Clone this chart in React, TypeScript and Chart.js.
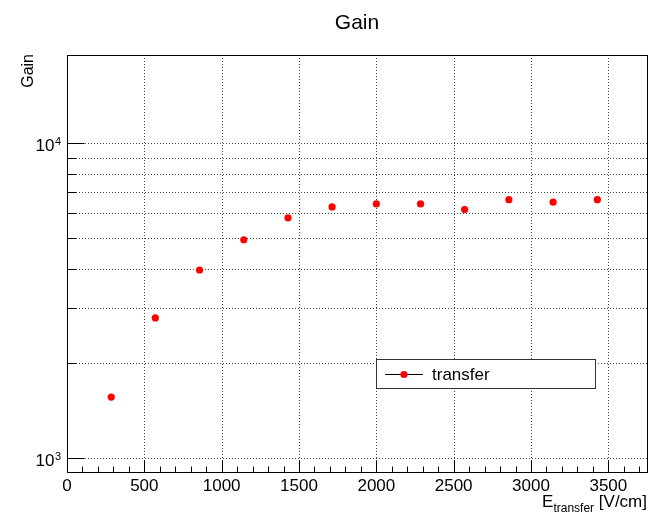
import { useEffect, useRef } from 'react';
import { Chart, registerables } from 'chart.js';

Chart.register(...registerables);

// ---- data ----
const chartTitle = 'Gain';
const yAxisTitle = 'Gain';
const xTitleMain = 'E';
const xTitleSub = 'transfer';
const xTitleUnit = ' [V/cm]';
const legendLabel = 'transfer';

const fieldValues = [286, 571, 857, 1143, 1429, 1714, 2000, 2286, 2571, 2857, 3143, 3429];
const gainValues = [1565, 2790, 3960, 4940, 5800, 6280, 6420, 6420, 6160, 6620, 6500, 6620];

const xMajorTicks = [0, 500, 1000, 1500, 2000, 2500, 3000, 3500];
const xMinorStep = 100;
const yDecadeTicks = [1000, 10000];
const yDecadeExponents = ['3', '4'];
const yMinorTicks = [2000, 3000, 4000, 5000, 6000, 7000, 8000, 9000];

const xMin = 0;
const xMax = 3750;
const yMin = 905;
const yMax = 19060;

const FONT = '"Liberation Sans", Arial, Helvetica, sans-serif';

const rootPlugin = {
  id: 'rootStyle',
  beforeDatasetsDraw(chart: any) {
    const { ctx, chartArea: a, scales } = chart;
    const xs = scales.x;
    const ys = scales.y;
    ctx.save();
    ctx.strokeStyle = '#444';
    ctx.lineWidth = 1;
    ctx.setLineDash([1, 2]);
    for (const v of xMajorTicks) {
      if (v === xMin) continue;
      const px = Math.round(xs.getPixelForValue(v)) + 0.5;
      ctx.beginPath();
      ctx.moveTo(px, a.top);
      ctx.lineTo(px, a.bottom);
      ctx.stroke();
    }
    for (const v of [...yDecadeTicks, ...yMinorTicks]) {
      const py = Math.round(ys.getPixelForValue(v)) + 0.5;
      ctx.beginPath();
      ctx.moveTo(a.left, py);
      ctx.lineTo(a.right, py);
      ctx.stroke();
    }
    ctx.restore();
  },
  afterDatasetsDraw(chart: any) {
    const { ctx, chartArea: a, scales } = chart;
    const xs = scales.x;
    const ys = scales.y;
    ctx.save();
    ctx.setLineDash([]);
    ctx.strokeStyle = '#000';
    ctx.fillStyle = '#000';
    ctx.lineWidth = 1;

    // frame
    const L = Math.round(a.left) + 0.5;
    const R = Math.round(a.right) + 0.5;
    const T = Math.round(a.top) + 0.5;
    const B = Math.round(a.bottom) + 0.5;
    ctx.strokeRect(L, T, R - L, B - T);

    // x ticks
    for (let v = xMin; v <= xMax; v += xMinorStep) {
      const px = Math.round(xs.getPixelForValue(v)) + 0.5;
      const major = v % 500 === 0;
      ctx.beginPath();
      ctx.moveTo(px, B);
      ctx.lineTo(px, B - (major ? 12 : 6));
      ctx.stroke();
    }
    // y ticks
    for (const v of yDecadeTicks) {
      const py = Math.round(ys.getPixelForValue(v)) + 0.5;
      ctx.beginPath();
      ctx.moveTo(L, py);
      ctx.lineTo(L + 17, py);
      ctx.stroke();
    }
    for (const v of yMinorTicks) {
      const py = Math.round(ys.getPixelForValue(v)) + 0.5;
      ctx.beginPath();
      ctx.moveTo(L, py);
      ctx.lineTo(L + 9, py);
      ctx.stroke();
    }

    // x tick labels
    ctx.font = `17px ${FONT}`;
    ctx.textAlign = 'center';
    ctx.textBaseline = 'alphabetic';
    for (const v of xMajorTicks) {
      ctx.fillText(String(v), xs.getPixelForValue(v), B + 18);
    }

    // y tick labels (10^n)
    yDecadeTicks.forEach((v, i) => {
      const py = ys.getPixelForValue(v);
      const right = 61;
      ctx.font = `11px ${FONT}`;
      const sw = ctx.measureText(yDecadeExponents[i]).width;
      ctx.textAlign = 'left';
      ctx.fillText(yDecadeExponents[i], right - sw, py + 2);
      ctx.font = `17px ${FONT}`;
      ctx.textAlign = 'right';
      ctx.fillText('10', right - sw - 0.5, py + 8);
    });

    // title
    ctx.font = `21px ${FONT}`;
    ctx.textAlign = 'center';
    ctx.fillText(chartTitle, (a.left + a.right) / 2, 29);

    // y axis title
    ctx.save();
    ctx.translate(33, a.top - 1);
    ctx.rotate(-Math.PI / 2);
    ctx.font = `16px ${FONT}`;
    ctx.textAlign = 'right';
    ctx.fillText(yAxisTitle, 0, 0);
    ctx.restore();

    // x axis title (right aligned)
    let xr = R - 0.5;
    ctx.textAlign = 'right';
    ctx.font = `17px ${FONT}`;
    ctx.fillText(xTitleUnit, xr, 507);
    xr -= ctx.measureText(xTitleUnit).width;
    ctx.font = `12px ${FONT}`;
    ctx.fillText(xTitleSub, xr, 512);
    xr -= ctx.measureText(xTitleSub).width;
    ctx.font = `17px ${FONT}`;
    ctx.fillText(xTitleMain, xr, 507);

    // legend
    ctx.fillStyle = '#fff';
    ctx.fillRect(376.5, 359.5, 219, 29);
    ctx.strokeStyle = '#333';
    ctx.strokeRect(376.5, 359.5, 219, 29);
    ctx.strokeStyle = '#000';
    ctx.beginPath();
    ctx.moveTo(385, 374.5);
    ctx.lineTo(423, 374.5);
    ctx.stroke();
    ctx.fillStyle = '#ff0000';
    ctx.beginPath();
    ctx.arc(404, 374.5, 3.6, 0, Math.PI * 2);
    ctx.fill();
    ctx.fillStyle = '#000';
    ctx.font = `17px ${FONT}`;
    ctx.textAlign = 'left';
    ctx.fillText(legendLabel, 432, 380);

    ctx.restore();
  },
};

export default function App() {
  const canvasRef = useRef<HTMLCanvasElement | null>(null);

  useEffect(() => {
    if (!canvasRef.current) return;
    const chart = new Chart(canvasRef.current, {
      type: 'scatter',
      data: {
        datasets: [
          {
            label: legendLabel,
            data: fieldValues.map((x, i) => ({ x, y: gainValues[i] })),
            pointRadius: 3.6,
            pointBackgroundColor: '#ff0000',
            pointBorderWidth: 0,
            borderColor: '#ff0000',
            showLine: false,
          },
        ],
      },
      options: {
        responsive: false,
        animation: false,
        events: [],
        layout: { padding: { left: 67, top: 55, right: 17, bottom: 47 } },
        plugins: {
          legend: { display: false },
          title: { display: false },
          tooltip: { enabled: false },
        },
        scales: {
          x: { type: 'linear', min: xMin, max: xMax, display: false },
          y: { type: 'logarithmic', min: yMin, max: yMax, display: false },
        },
      },
      plugins: [rootPlugin],
    });
    return () => chart.destroy();
  }, []);

  return (
    <div style={{ position: 'absolute', left: 0, top: 0, width: 664, height: 519, background: '#fff' }}>
      <canvas ref={canvasRef} width={664} height={519} />
    </div>
  );
}
